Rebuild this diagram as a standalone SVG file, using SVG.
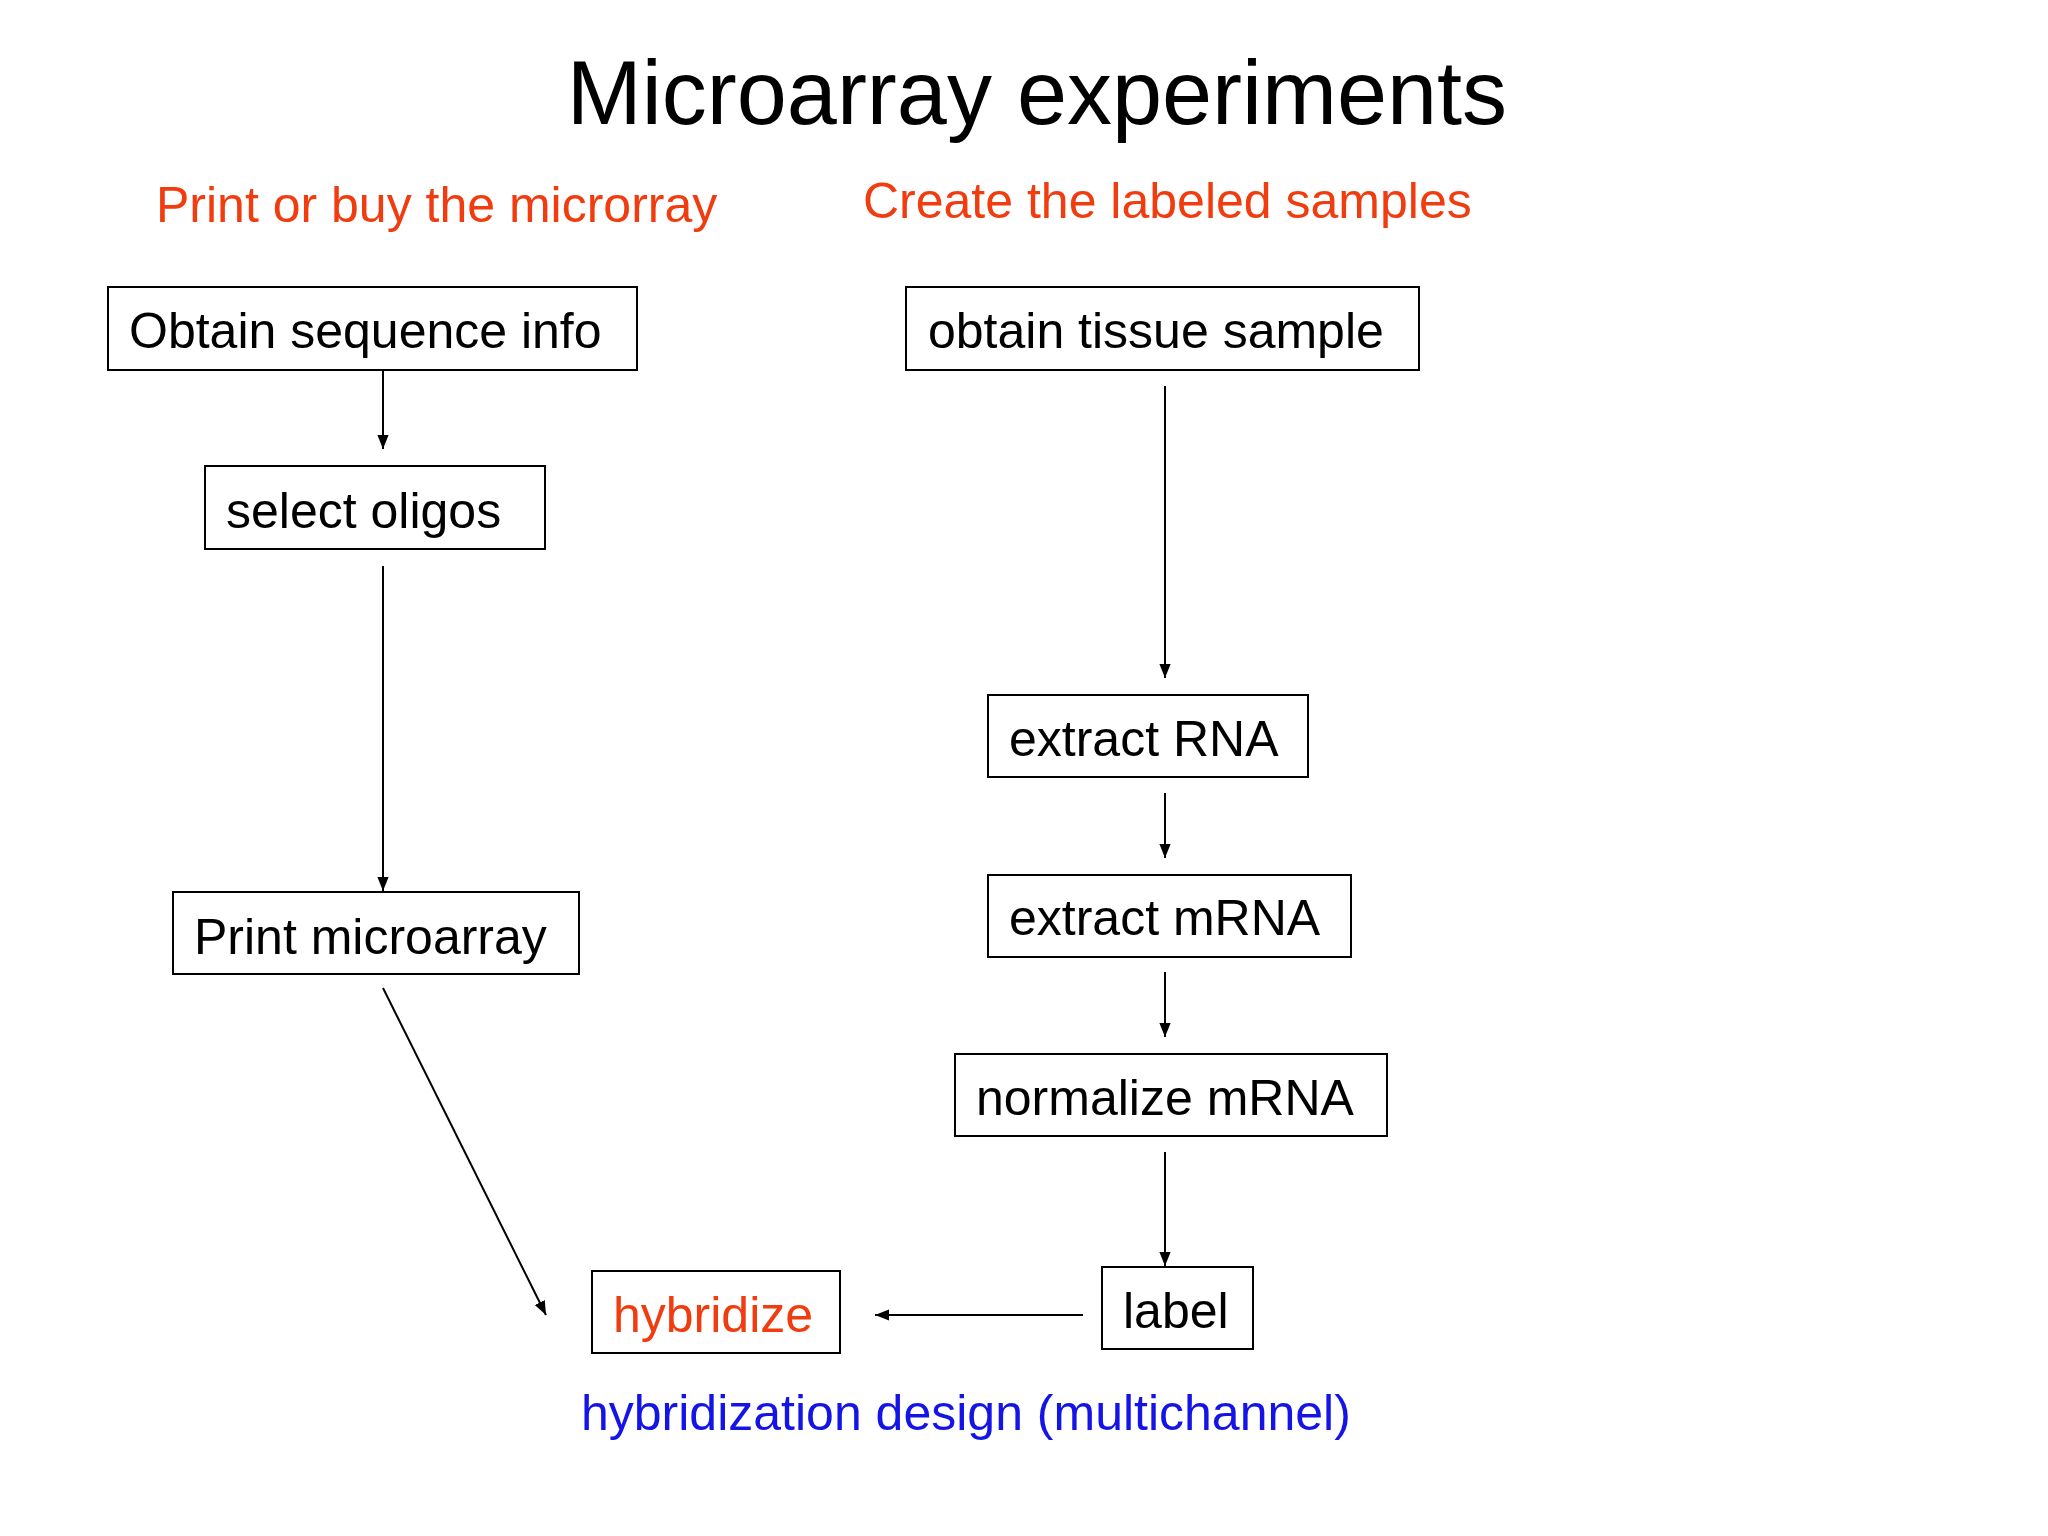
<svg xmlns="http://www.w3.org/2000/svg" width="2048" height="1536" viewBox="0 0 2048 1536">
<style>
text{font-family:"Liberation Sans",Arial,sans-serif;font-size:50px;fill:#000}
.box{fill:#fff;stroke:#000;stroke-width:2}
.red{fill:#f03c0f}
.blue{fill:#1414e6}
.c line{stroke:#000;stroke-width:2;marker-end:url(#a)}
</style>
<defs><marker id="a" viewBox="0 0 10 10" refX="10" refY="5" markerWidth="8" markerHeight="8" markerUnits="userSpaceOnUse" orient="auto"><path d="M0,0L10,5L0,10z" fill="#000"/></marker>
<marker id="b" viewBox="0 0 10 10" refX="10" refY="5" markerWidth="14" markerHeight="14" markerUnits="userSpaceOnUse" orient="auto"><path d="M0,1L10,5L0,9z" fill="#000"/></marker></defs>
<rect width="2048" height="1536" fill="#fff"/>
<text x="1037" y="124" text-anchor="middle" style="font-size:90px">Microarray experiments</text>
<text x="156" y="222" class="red">Print or buy the microrray</text>
<text x="863" y="218" class="red">Create the labeled samples</text>
<g class="c" style="--x:0">
<line x1="383" y1="370" x2="383" y2="449" style="marker-end:url(#b)"/>
<line x1="383" y1="566" x2="383" y2="891" style="marker-end:url(#b)"/>
<line x1="383" y1="988" x2="546" y2="1315" style="marker-end:url(#b)"/>
<line x1="1165" y1="386" x2="1165" y2="678" style="marker-end:url(#b)"/>
<line x1="1165" y1="793" x2="1165" y2="858" style="marker-end:url(#b)"/>
<line x1="1165" y1="972" x2="1165" y2="1037" style="marker-end:url(#b)"/>
<line x1="1165" y1="1152" x2="1165" y2="1266" style="marker-end:url(#b)"/>
<line x1="1083" y1="1315" x2="875" y2="1315" style="marker-end:url(#b)"/>
</g>
<g id="n1"><rect class="box" x="108" y="287" width="529" height="83"/><text x="129" y="348">Obtain sequence info</text></g>
<g id="n2"><rect class="box" x="205" y="466" width="340" height="83"/><text x="226" y="528">select oligos</text></g>
<g id="n3"><rect class="box" x="173" y="892" width="406" height="82"/><text x="194" y="954">Print microarray</text></g>
<g id="n4"><rect class="box" x="906" y="287" width="513" height="83"/><text x="928" y="348">obtain tissue sample</text></g>
<g id="n5"><rect class="box" x="988" y="695" width="320" height="82"/><text x="1009" y="756">extract RNA</text></g>
<g id="n6"><rect class="box" x="988" y="875" width="363" height="82"/><text x="1009" y="935">extract mRNA</text></g>
<g id="n7"><rect class="box" x="955" y="1054" width="432" height="82"/><text x="976" y="1115">normalize mRNA</text></g>
<g id="n8"><rect class="box" x="1102" y="1267" width="151" height="82"/><text x="1123" y="1328">label</text></g>
<g id="n9"><rect class="box" x="592" y="1271" width="248" height="82"/><text x="613" y="1332" class="red">hybridize</text></g>
<text x="581" y="1430" class="blue">hybridization design (multichannel)</text>
</svg>
